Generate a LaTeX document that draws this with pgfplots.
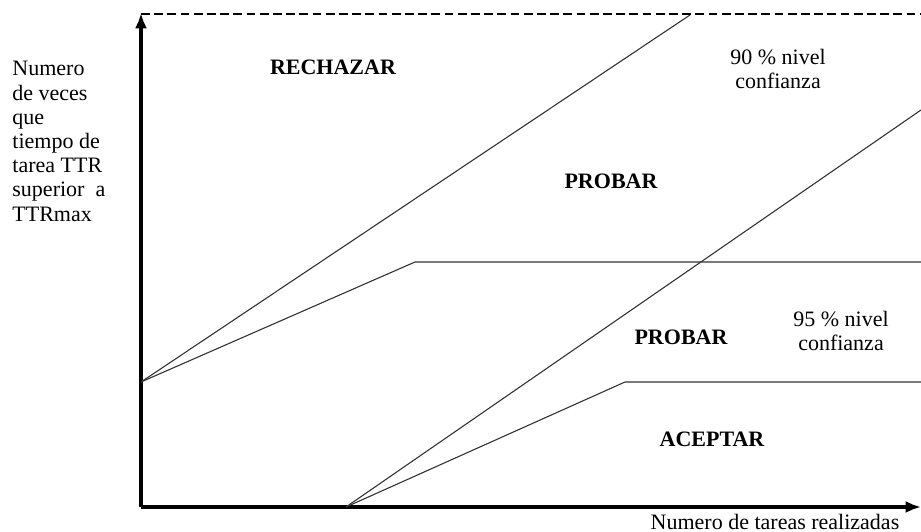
\documentclass[border=0pt]{standalone}
\usepackage{fontspec}
\setmainfont{Liberation Serif}
\usepackage{pgfplots}
\pgfplotsset{compat=1.18}
\usetikzlibrary{arrows.meta}
\begin{document}
\begin{tikzpicture}
\begin{axis}[
  x=0.4545pt, y=0.4545pt,
  xmin=0, xmax=780, ymin=0, ymax=494,
  axis lines=left,
  axis line style={line width=1.4pt, -{Latex[length=7pt,width=5.5pt]}},
  xtick=\empty, ytick=\empty,
  clip=false,
  thinline/.style={line width=0.5pt, color=black!80, mark=none},
]
\addplot[thinline] coordinates {(0,125) (549,492)};
\addplot[thinline] coordinates {(0,125) (274,245) (780,245)};
\addplot[thinline] coordinates {(205,0) (780,397)};
\addplot[thinline] coordinates {(205,0) (484,125) (780,125)};
\addplot[mark=none, dash pattern=on 4pt off 2pt, line width=0.6pt, color=black] coordinates {(0,493) (780,493)};
\node[font=\bfseries] at (axis cs:192,440) {RECHAZAR};
\node[font=\bfseries] at (axis cs:470,326) {PROBAR};
\node[font=\bfseries] at (axis cs:540,170) {PROBAR};
\node[font=\bfseries] at (axis cs:571,68) {ACEPTAR};
\node[align=center, font=\fontsize{10}{10.5}\selectfont] at (axis cs:637,438) {90 \% nivel\\confianza};
\node[align=center, font=\fontsize{10}{10.5}\selectfont] at (axis cs:700,176) {95 \% nivel\\confianza};
\node[align=left, anchor=north west, inner sep=0pt, font=\fontsize{10}{11}\selectfont] at (axis cs:-129,446) {Numero\\de veces\\que\\tiempo de\\tarea TTR\\superior\ \ a\\TTRmax};
\node[anchor=north, inner sep=0pt] at (axis cs:634,-7) {Numero de tareas realizadas};
\coordinate (bl) at (axis cs:-141,-25);
\coordinate (tr) at (axis cs:780,507);
\end{axis}
\pgfresetboundingbox
\path[use as bounding box] (bl) rectangle (tr);
\end{tikzpicture}
\end{document}
